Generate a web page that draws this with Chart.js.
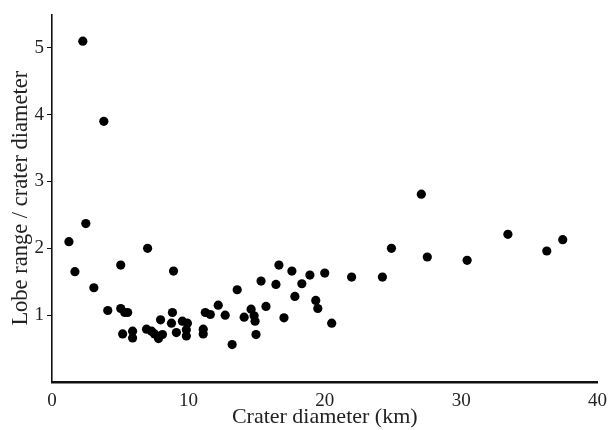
<!DOCTYPE html>
<html>
<head>
<meta charset="utf-8">
<script src="https://cdn.jsdelivr.net/npm/chart.js@4.4.0/dist/chart.umd.min.js"></script>
<style>
  html, body { margin: 0; padding: 0; background: #fff; }
  #wrap { width: 615px; height: 430px; }
</style>
</head>
<body>
<div id="wrap"><canvas id="craterChart" width="615" height="430"></canvas></div>
<script>
// Crater diameter (km) vs lobe range / crater diameter
const craterDiameter = [
    2.26, 3.80, 1.24, 1.68, 2.48, 3.07, 4.09, 5.04, 5.04, 5.33,
    5.55, 5.18, 5.91, 5.91, 7.01, 6.93, 7.30, 7.52, 7.81, 8.10,
    7.96, 8.83, 8.76, 8.91, 9.12, 9.56, 9.93, 9.85, 9.85, 11.24,
    11.61, 11.09, 11.09, 12.19, 12.70, 13.21, 13.58, 14.09, 14.60, 14.82,
    14.89, 14.96, 15.33, 15.69, 16.42, 16.64, 17.01, 17.59, 17.81, 18.32,
    18.91, 19.34, 19.49, 20.00, 20.51, 21.97, 24.23, 24.89, 27.08, 27.52,
    30.44, 33.43, 36.28, 37.45
];
const lobeRatio = [
    5.10, 3.90, 2.10, 1.65, 2.37, 1.41, 1.07, 1.75, 1.10, 1.04,
    1.04, 0.72, 0.76, 0.66, 2.00, 0.79, 0.76, 0.72, 0.65, 0.71,
    0.93, 1.04, 0.88, 1.66, 0.74, 0.91, 0.88, 0.78, 0.69, 1.04,
    1.01, 0.79, 0.72, 1.15, 1.00, 0.56, 1.38, 0.97, 1.09, 0.99,
    0.91, 0.71, 1.51, 1.13, 1.46, 1.75, 0.96, 1.66, 1.28, 1.47,
    1.60, 1.22, 1.10, 1.63, 0.88, 1.57, 1.57, 2.00, 2.81, 1.87,
    1.82, 2.21, 1.96, 2.13
];
const xTicks = [0, 10, 20, 30, 40];
const yTicks = [1, 2, 3, 4, 5];

const points = craterDiameter.map((d, i) => ({ x: d, y: lobeRatio[i] }));
const serif = '"Liberation Serif", "DejaVu Serif", serif';

new Chart(document.getElementById('craterChart').getContext('2d'), {
    type: 'scatter',
    data: {
        datasets: [{
            data: points,
            backgroundColor: '#000',
            borderColor: '#000',
            pointRadius: 4.6,
            borderWidth: 0
        }]
    },
    options: {
        responsive: false,
        animation: false,
        layout: { padding: { left: 0, right: 15, top: 8, bottom: 0 } },
        plugins: {
            legend: { display: false },
            tooltip: { enabled: false }
        },
        scales: {
            x: {
                type: 'linear',
                min: 0,
                max: 40,
                afterFit: function(scale) { scale.height = 48; },
                afterBuildTicks: function(scale) {
                    scale.ticks = xTicks.map(v => ({ value: v }));
                },
                grid: { display: true, drawOnChartArea: false, drawTicks: false },
                border: { display: true, color: '#111', width: 2.5 },
                ticks: {
                    padding: 8,
                    color: '#222',
                    font: { family: serif, size: 19 }
                },
                title: {
                    display: true,
                    text: 'Crater diameter (km)',
                    color: '#222',
                    font: { family: serif, size: 22 },
                    padding: { top: 0, bottom: 0 }
                }
            },
            y: {
                type: 'linear',
                min: 0,
                max: 5.5,
                afterFit: function(scale) { scale.width = 52; },
                afterBuildTicks: function(scale) {
                    scale.ticks = yTicks.map(v => ({ value: v }));
                },
                grid: { display: true, drawOnChartArea: false, drawTicks: true, tickLength: 5, color: '#111' },
                border: { display: true, color: '#111', width: 1.6 },
                ticks: {
                    padding: 3,
                    color: '#222',
                    font: { family: serif, size: 19 }
                },
                title: {
                    display: true,
                    text: 'Lobe range / crater diameter',
                    color: '#222',
                    font: { family: serif, size: 22.5 },
                    padding: { top: 8, bottom: 0 }
                }
            }
        }
    }
});
</script>
</body>
</html>
